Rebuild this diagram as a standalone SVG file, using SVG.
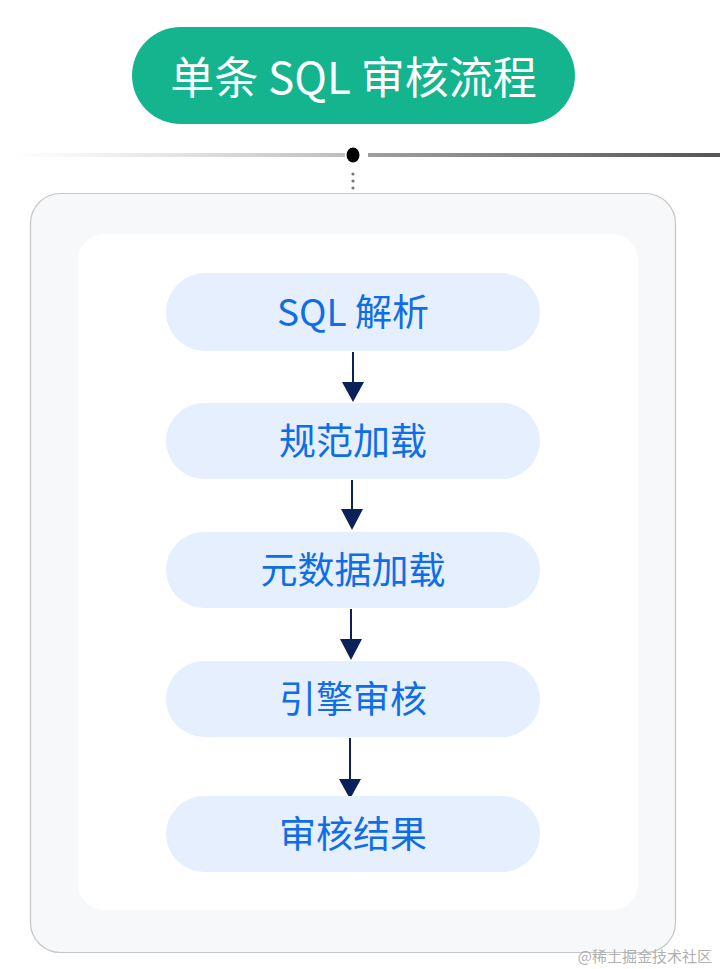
<svg xmlns="http://www.w3.org/2000/svg" width="720" height="969" viewBox="0 0 720 969">
<style>
.node rect{fill:#e5effd;}
.node text{font-family:"Noto Sans CJK SC","Liberation Sans",sans-serif;font-size:37px;font-weight:400;fill:#0f6ee6;text-anchor:middle;}
.conn line{stroke:#0b2159;stroke-width:2;}
.conn path{fill:#0b2159;}
</style>
<defs>
<linearGradient id="gl" x1="0" x2="1" y1="0" y2="0">
<stop offset="0" stop-color="#d0d0d0" stop-opacity="0"/>
<stop offset="1" stop-color="#bdbdbd"/>
</linearGradient>
<linearGradient id="gr" x1="0" x2="1" y1="0" y2="0">
<stop offset="0" stop-color="#a0a0a0"/>
<stop offset="1" stop-color="#555555"/>
</linearGradient>
</defs>
<rect width="720" height="969" fill="#ffffff"/>
<g id="title">
<rect x="132" y="27" width="443" height="97" rx="48.5" fill="#14b48e"/>
<text x="353.5" y="94" font-family="Noto Sans CJK SC,Liberation Sans,sans-serif" font-size="44" fill="#ffffff" text-anchor="middle">单条 SQL 审核流程</text>
</g>
<g id="divider">
<rect x="12" y="153" width="333" height="4" fill="url(#gl)"/>
<rect x="368" y="153" width="352" height="4" fill="url(#gr)"/>
<ellipse cx="353" cy="155" rx="6.5" ry="7.5" fill="#000000"/>
<circle cx="353" cy="174" r="1.6" fill="#777"/>
<circle cx="353" cy="181" r="1.6" fill="#777"/>
<circle cx="353" cy="188" r="1.6" fill="#777"/>
</g>
<g id="container">
<rect x="30.5" y="193.5" width="645" height="759" rx="30" fill="#f7f8fa" stroke="#c6c6c6" stroke-width="1.2"/>
<rect x="78" y="234" width="560" height="676" rx="26" fill="#ffffff"/>
</g>
<g class="conn" id="connectors">
<line x1="353" y1="352" x2="353" y2="384"/>
<path d="M342,382 L364,382 L353,402 Z"/>
<line x1="352" y1="480" x2="352" y2="511"/>
<path d="M341,509 L363,509 L352,530 Z"/>
<line x1="351" y1="609" x2="351" y2="641"/>
<path d="M340,639 L362,639 L351,660 Z"/>
<line x1="350" y1="738" x2="350" y2="781"/>
<path d="M339,779 L361,779 L350,799 Z"/>
</g>
<g class="node" id="n1">
<rect x="166" y="273" width="374" height="78" rx="39"/>
<text x="353" y="326">SQL 解析</text>
</g>
<g class="node" id="n2">
<rect x="166" y="403" width="374" height="76" rx="38"/>
<text x="353" y="455">规范加载</text>
</g>
<g class="node" id="n3">
<rect x="166" y="532" width="374" height="76" rx="38"/>
<text x="353" y="584">元数据加载</text>
</g>
<g class="node" id="n4">
<rect x="166" y="661" width="374" height="76" rx="38"/>
<text x="353" y="713">引擎审核</text>
</g>
<g class="node" id="n5">
<rect x="166" y="796" width="374" height="76" rx="38"/>
<text x="353" y="848">审核结果</text>
</g>
<text x="712" y="962" font-family="Noto Sans CJK SC,Liberation Sans,sans-serif" font-size="15" fill="#b0b0b0" text-anchor="end">@稀土掘金技术社区</text>
</svg>
